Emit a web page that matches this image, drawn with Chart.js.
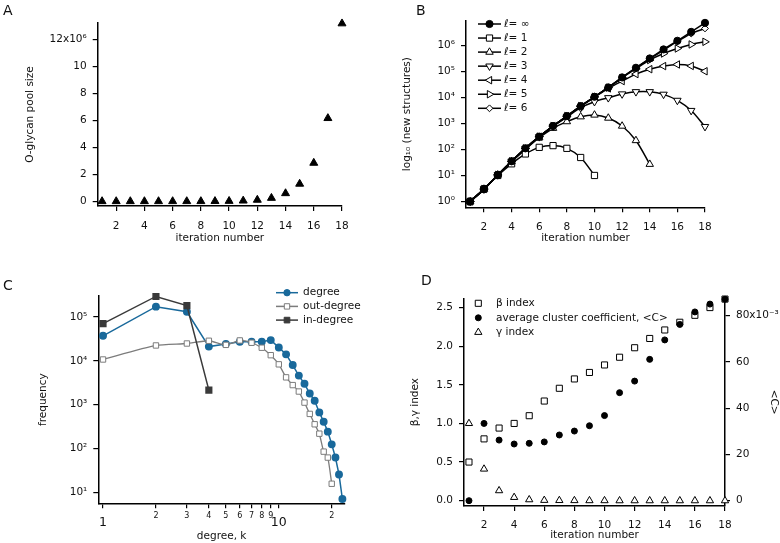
<!DOCTYPE html>
<html>
<head>
<meta charset="utf-8">
<script src="https://cdn.jsdelivr.net/npm/chart.js@4.4.1/dist/chart.umd.min.js"></script>
<style>
  html, body { margin: 0; padding: 0; background: #fff; }
  #page { position: relative; width: 780px; height: 543px; overflow: hidden; }
  canvas { position: absolute; left: 0; top: 0; }
  .tag { position: absolute; font: 14px/14px "DejaVu Sans", sans-serif; color: #111; }
</style>
</head>
<body>
<div id="page">
  <canvas id="chartA" width="780" height="543"></canvas>
  <canvas id="chartB" width="780" height="543"></canvas>
  <canvas id="chartC" width="780" height="543"></canvas>
  <canvas id="chartD" width="780" height="543"></canvas>
  <div class="tag" style="left:3px;top:3px">A</div>
  <div class="tag" style="left:416px;top:3px">B</div>
  <div class="tag" style="left:3px;top:278px">C</div>
  <div class="tag" style="left:421px;top:273px">D</div>
</div>
<script>
// --- data ---
const iterations = [1, 2, 3, 4, 5, 6, 7, 8, 9, 10, 11, 12, 13, 14, 15, 16, 17, 18];
const evenTicks = [2, 4, 6, 8, 10, 12, 14, 16, 18];

// A: O-glycan pool size
const poolSize = [1, 4, 15, 52, 167, 487, 1290, 3240, 7900, 19000, 44000, 104000,
                  244000, 590000, 1290000, 2840000, 6150000, 13160000];

// B: new structures per iteration, by max length l
const lInf = [1, 3, 10.5, 35, 110, 310, 790, 1900, 4600, 10500, 24000, 58000, 136000, 310000, 690000, 1480000, 3250000, 7200000];
const l1 = [1, 3, 10, 28, 67, 120, 140, 110, 49, 10];
const l2 = [1, 3, 10.5, 34, 100, 280, 650, 1170, 1800, 2100, 1600, 790, 220, 27];
const l3 = [1, 3, 10.5, 35, 108, 305, 760, 1750, 4000, 6800, 9600, 13400, 16300, 16300, 13000, 7600, 3100, 750];
const l4 = [1, 3, 10.5, 35, 110, 308, 785, 1880, 4500, 10000, 22000, 42000, 78000, 120000, 158000, 182000, 160000, 100000];
const l5 = [1, 3, 10.5, 35, 110, 310, 790, 1900, 4600, 10400, 23500, 56000, 125000, 270000, 480000, 750000, 1070000, 1350000];
const l6 = [1, 3, 10.5, 35, 110, 310, 790, 1900, 4600, 10500, 24000, 58000, 135000, 300000, 640000, 1400000, 2800000, 4400000];
const decadesB = [1, 10, 100, 1000, 10000, 100000, 1000000];

// C: degree distributions
const kDegree = [1, 2, 3, 4, 5, 6, 7, 8, 9, 10, 11, 12, 13, 14, 15, 16, 17, 18, 19, 20, 21, 22, 23];
const freqDegree = [37000, 170000, 130000, 21000, 24000, 27000, 27000, 27000, 29500, 20000, 14000, 8000,
                    4600, 3000, 1800, 1230, 670, 410, 245, 126, 63, 26, 7.2];
const kOut = [1, 2, 3, 4, 5, 6, 7, 8, 9, 10, 11, 12, 13, 14, 15, 16, 17, 18, 19, 20];
const freqOut = [10700, 22300, 24700, 28500, 23000, 29000, 25700, 19800, 13400, 8300, 4200, 2800,
                 2000, 1120, 620, 360, 220, 86, 63, 16];
const kIn = [1, 2, 3, 4];
const freqIn = [70000, 290000, 180000, 2150];
const decadesC = [10, 100, 1000, 10000, 100000];
const kTicks = [1, 2, 3, 4, 5, 6, 7, 8, 9, 10, 20];

// D: network indices
const betaIdx = [0.5, 0.8, 0.94, 1.0, 1.1, 1.29, 1.455, 1.576, 1.66, 1.757, 1.857, 1.98, 2.1, 2.21, 2.31, 2.4, 2.5, 2.61];
const gammaIdx = [1.0, 0.41, 0.13, 0.043, 0.013, 0.005, 0.003, 0.002, 0.001, 0.001, 0, 0, 0, 0, 0, 0, 0, 0];
const clusterC = [0, 0.0334, 0.0262, 0.0245, 0.0248, 0.0254, 0.0284, 0.0301, 0.0324, 0.0368, 0.0467,
                  0.0517, 0.0611, 0.0695, 0.0762, 0.0816, 0.085, 0.0871];

const FONT = 'DejaVu Sans';
const INK = '#111';
const BLUE = '#19699b';
const GREY = '#7c7c7c';
const DARK = '#3a3a3a';

const pts = (xs, ys) => ys.map((y, i) => ({ x: xs[i], y: y }));
const sup = { '-': '⁻', '0': '⁰', '1': '¹', '2': '²', '3': '³', '4': '⁴', '5': '⁵', '6': '⁶', '7': '⁷', '8': '⁸', '9': '⁹' };
const pow10 = v => '10' + String(Math.round(Math.log10(v))).split('').map(c => sup[c]).join('');

function makeAxis(o) {
    return {
        type: o.type || 'linear',
        position: o.position,
        min: o.min,
        max: o.max,
        afterBuildTicks: s => { s.ticks = o.ticks.map(v => ({ value: v })); },
        afterFit: s => {
            if (o.position === 'bottom') s.height = o.size;
            else s.width = o.size;
        },
        grid: { drawOnChartArea: false, drawTicks: true, tickLength: 5, color: '#000', lineWidth: 1.2 },
        border: { display: true, color: '#000', width: 1.5 },
        ticks: {
            color: INK,
            font: o.tickFont || { family: FONT, size: 10.5 },
            padding: o.tickPad != null ? o.tickPad : 6,
            autoSkip: false,
            maxRotation: 0,
            callback: o.label || (v => String(v))
        },
        title: {
            display: true, text: o.title, color: INK,
            font: { family: FONT, size: 10.5, lineHeight: 1.2 },
            padding: o.titlePad
        }
    };
}

// legend drawn as line + marker + text, the way the figure does it
const sketchLegend = {
    id: 'sketchLegend',
    afterDatasetsDraw(chart, args, opts) {
        if (!opts || !opts.items) return;
        const ctx = chart.ctx;
        ctx.save();
        opts.items.forEach((it, i) => {
            const y = opts.y + i * opts.dy;
            if (opts.line) {
                ctx.strokeStyle = it.color;
                ctx.lineWidth = 1.5;
                ctx.beginPath();
                ctx.moveTo(opts.line[0], y);
                ctx.lineTo(opts.line[1], y);
                ctx.stroke();
            }
            ctx.fillStyle = it.fill;
            ctx.strokeStyle = it.color;
            ctx.lineWidth = 1;
            Chart.helpers.drawPoint(ctx, {
                pointStyle: it.style, rotation: it.rotation || 0, radius: it.radius, borderWidth: 1
            }, opts.markX, y);
            ctx.fillStyle = INK;
            ctx.textBaseline = 'middle';
            ctx.textAlign = 'left';
            let x = opts.textX;
            if (it.italic) {
                ctx.font = 'italic 11px "' + FONT + '"';
                ctx.fillText(it.italic, x, y);
                x += ctx.measureText(it.italic).width;
            }
            ctx.font = '10.5px "' + FONT + '"';
            ctx.fillText(it.label, x, y);
        });
        ctx.restore();
    }
};
Chart.register(sketchLegend);

const common = {
    responsive: false,
    animation: false,
    events: [],
    plugins: { legend: { display: false }, tooltip: { enabled: false } }
};

// ---------- A ----------
new Chart(document.getElementById('chartA'), {
    type: 'line',
    data: {
        datasets: [{
            data: pts(iterations, poolSize), showLine: false, clip: false,
            pointStyle: 'triangle', pointRadius: 4.6,
            backgroundColor: '#000', borderColor: '#000', borderWidth: 1
        }]
    },
    options: {
        ...common,
        layout: { padding: { left: 7.7, right: 438, top: 23, bottom: 297 } },
        scales: {
            x: makeAxis({ position: 'bottom', min: 0.69, max: 18, ticks: evenTicks, size: 40, tickPad: 9,
                          title: 'iteration number', titlePad: { top: 0, bottom: 1.7 } }),
            y: makeAxis({ position: 'left', min: -346000, max: 13200000, size: 90,
                          ticks: [0, 2e6, 4e6, 6e6, 8e6, 10e6, 12e6],
                          label: v => v === 12e6 ? '12x10⁶' : String(v / 1e6),
                          title: 'O-glycan pool size', titlePad: { top: 16, bottom: 0 } })
        }
    }
});

// ---------- B ----------
const bSeries = [
    { data: lInf, style: 'circle', radius: 3.6, fill: '#000', label: '= ∞' },
    { data: l1, style: 'rect', radius: 4.4, fill: '#fff', label: '= 1' },
    { data: l2, style: 'triangle', radius: 4.3, fill: '#fff', label: '= 2' },
    { data: l3, style: 'triangle', radius: 4.3, rotation: 180, fill: '#fff', label: '= 3' },
    { data: l4, style: 'triangle', radius: 4.3, rotation: 270, fill: '#fff', label: '= 4' },
    { data: l5, style: 'triangle', radius: 4.3, rotation: 90, fill: '#fff', label: '= 5' },
    { data: l6, style: 'rectRot', radius: 3.4, fill: '#fff', label: '= 6' }
];
new Chart(document.getElementById('chartB'), {
    type: 'line',
    data: {
        datasets: bSeries.map(s => ({
            data: pts(iterations, s.data), clip: false, tension: 0.3,
            borderColor: '#000', borderWidth: 1.5,
            pointStyle: s.style, pointRadius: s.radius, pointRotation: s.rotation || 0,
            pointBackgroundColor: s.fill, pointBorderColor: '#000', pointBorderWidth: 1
        }))
    },
    options: {
        ...common,
        layout: { padding: { left: 376, right: 75, top: 21, bottom: 295.7 } },
        plugins: {
            ...common.plugins,
            sketchLegend: {
                y: 24, dy: 14.05, line: [478, 501], markX: 489.5, textX: 504,
                items: bSeries.map(s => ({ style: s.style, rotation: s.rotation, radius: s.radius,
                                           fill: s.fill, color: '#000', italic: 'ℓ', label: s.label }))
            }
        },
        scales: {
            x: makeAxis({ position: 'bottom', min: 0.7, max: 18, ticks: evenTicks, size: 40, tickPad: 9,
                          title: 'iteration number', titlePad: { top: 0, bottom: 2.7 } }),
            y: makeAxis({ type: 'logarithmic', position: 'left', min: 0.6, max: 8.5e6, size: 90,
                          ticks: decadesB, label: pow10,
                          title: 'log₁₀ (new structures)', titlePad: { top: 25, bottom: 0 } })
        }
    }
});

// ---------- C ----------
new Chart(document.getElementById('chartC'), {
    type: 'line',
    data: {
        datasets: [
            { data: pts(kIn, freqIn), clip: false, borderColor: DARK, borderWidth: 1.5,
              pointStyle: 'rect', pointRadius: 4, pointBackgroundColor: DARK, pointBorderColor: DARK },
            { data: pts(kOut, freqOut), clip: false, borderColor: GREY, borderWidth: 1.3, tension: 0.2,
              pointStyle: 'rect', pointRadius: 3.8, pointBackgroundColor: '#fff', pointBorderColor: GREY, pointBorderWidth: 1 },
            { data: pts(kDegree, freqDegree), clip: false, borderColor: BLUE, borderWidth: 1.5,
              pointStyle: 'circle', pointRadius: 3.2, pointBackgroundColor: BLUE, pointBorderColor: BLUE }
        ]
    },
    options: {
        ...common,
        layout: { padding: { left: 8.3, right: 435, top: 296, bottom: 0 } },
        plugins: {
            ...common.plugins,
            sketchLegend: {
                y: 292.7, dy: 13.7, line: [276, 298], markX: 287, textX: 303,
                items: [
                    { style: 'circle', radius: 3.2, fill: BLUE, color: BLUE, label: 'degree' },
                    { style: 'rect', radius: 3.8, fill: '#fff', color: GREY, label: 'out-degree' },
                    { style: 'rect', radius: 4, fill: DARK, color: DARK, label: 'in-degree' }
                ]
            }
        },
        scales: {
            x: makeAxis({ type: 'logarithmic', position: 'bottom', min: 0.94, max: 23.8, ticks: kTicks, size: 39.7,
                          tickPad: 3,
                          tickFont: c => (c.tick && (c.tick.value === 1 || c.tick.value === 10))
                              ? { family: FONT, size: 12.5, lineHeight: 0.62 }
                              : { family: FONT, size: 8 },
                          label: v => v === 1 ? ['', '1'] : v === 10 ? ['', '10'] : v === 20 ? '2' : String(v),
                          title: 'degree, k', titlePad: { top: 0, bottom: 0 } }),
            y: makeAxis({ type: 'logarithmic', position: 'left', min: 5.75, max: 2.97e5, size: 90,
                          ticks: decadesC, label: pow10,
                          title: 'frequency', titlePad: { top: 28.4, bottom: 0 } })
        }
    }
});

// ---------- D ----------
new Chart(document.getElementById('chartD'), {
    type: 'line',
    data: {
        datasets: [
            { data: pts(iterations, clusterC), yAxisID: 'y2', showLine: false, clip: false,
              pointStyle: 'circle', pointRadius: 3, pointBackgroundColor: '#000', pointBorderColor: '#000' },
            { data: pts(iterations, betaIdx), yAxisID: 'y', showLine: false, clip: false,
              pointStyle: 'rect', pointRadius: 4.3, pointBackgroundColor: '#fff', pointBorderColor: '#000', pointBorderWidth: 1 },
            { data: pts(iterations, gammaIdx), yAxisID: 'y', showLine: false, clip: false,
              pointStyle: 'triangle', pointRadius: 4.2, pointBackgroundColor: '#fff', pointBorderColor: '#000', pointBorderWidth: 1 }
        ]
    },
    options: {
        ...common,
        layout: { padding: { left: 384, right: 0, top: 298.3, bottom: 0 } },
        plugins: {
            ...common.plugins,
            sketchLegend: {
                y: 303.3, dy: 14.5, markX: 478.3, textX: 496,
                items: [
                    { style: 'rect', radius: 4.3, fill: '#fff', color: '#000', label: 'β index' },
                    { style: 'circle', radius: 3, fill: '#000', color: '#000', label: 'average cluster coefficient, <C>' },
                    { style: 'triangle', radius: 4.2, fill: '#fff', color: '#000', label: 'γ index' }
                ]
            }
        },
        scales: {
            x: makeAxis({ position: 'bottom', min: 0.67, max: 18, ticks: evenTicks, size: 37, tickPad: 8,
                          title: 'iteration number', titlePad: { top: 0, bottom: 1.7 } }),
            y: makeAxis({ position: 'left', min: -0.069, max: 2.62, size: 80,
                          ticks: [0, 0.5, 1, 1.5, 2, 2.5], label: v => v.toFixed(1),
                          title: 'β,γ index', titlePad: { top: 24.7, bottom: 0 } }),
            y2: makeAxis({ position: 'right', min: -0.0023, max: 0.0875, size: 55,
                           ticks: [0, 0.02, 0.04, 0.06, 0.08],
                           label: v => Math.abs(v - 0.08) < 1e-9 ? '80x10⁻³' : String(Math.round(v * 1000)),
                           title: '<C>', titlePad: { top: 0.2, bottom: 0 } })
        }
    }
});
</script>
</body>
</html>
